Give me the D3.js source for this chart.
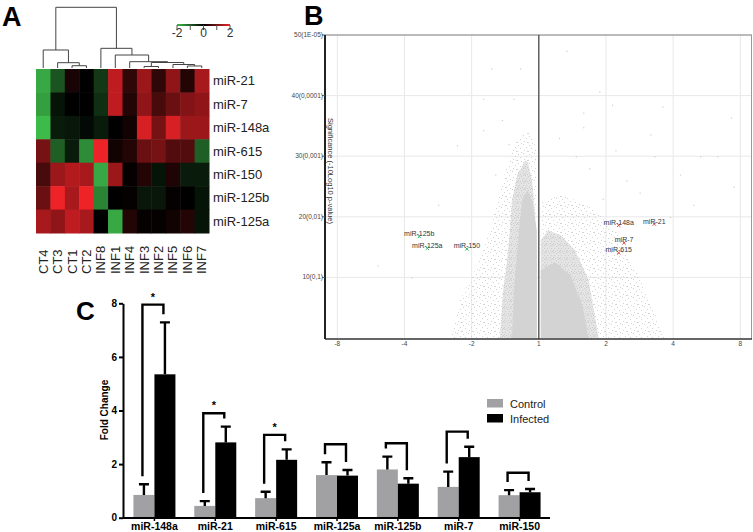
<!DOCTYPE html>
<html><head><meta charset="utf-8">
<script src="https://cdn.jsdelivr.net/npm/d3@7"></script>
<style>body{margin:0;background:#fff}svg{display:block;font-family:"Liberation Sans",Arial,sans-serif}</style>
</head><body><svg id="c" width="753" height="532"></svg>
<script>
// ---------- Panel A data ----------
const hmRows = ["miR-21","miR-7","miR-148a","miR-615","miR-150","miR-125b","miR-125a"];
const hmCols = ["CT4","CT3","CT1","CT2","INF8","INF1","INF4","INF3","INF2","INF5","INF6","INF7"];
const hmValues = [
  [-1.8,-0.9, 0.2, 0.0,-0.6, 1.6, 0.4, 1.3, 0.4, 1.2, 0.3, 1.4],
  [-1.7,-0.2, 0.0, 0.0,-0.5, 1.6, 0.3, 1.2, 0.6, 0.9, 1.1, 1.2],
  [-2.0,-0.3,-0.25,-0.1,-0.3, 0.0, 0.15,1.8, 1.0, 1.8, 1.3, 1.3],
  [ 1.0,-1.0,-0.3,-1.5, 2.0, 0.15,0.3, 0.9, 1.0, 0.7, 0.7,-1.0],
  [ 0.6, 1.3, 1.5, 1.4,-1.8, 1.3, 0.05,0.3,-0.2, 0.25,-0.3,-0.3],
  [ 0.9, 2.0, 1.4, 2.0,-1.4, 0.0, 0.05,-0.25,-0.25,0.05,0.0,-0.2],
  [ 1.4, 1.2, 1.6, 1.4, 0.0,-1.8, 0.3, 0.05,0.05, 0.15,0.3,-0.2]
];
// dendrogram merges: [left, right, height]; merge i is named "m"+i
const dendroMerges = [
  ["CT1","CT2",0.45],["CT3","m0",1.05],["CT4","m1",3.56],
  ["INF6","INF7",0.4],["INF3","INF2",0.3],["INF5","m3",0.69],["m4","m5",1.09],
  ["INF4","m6",1.25],["INF1","m7",2.57],["INF8","m8",3.89],["m2","m9",12]
];
const cbTicks = [-2,-1,0,1,2];
const cbLabels = [-2,0,2];

// ---------- Panel B data ----------
const volXTicks = [-3,-2,-1,0,1,2,3];
const volXLabels = ["-8","-4","-2","1","2","4","8"];
const volYTicks = [10,20,30,40,50];
const volYLabels = ["10(0,1)","20(0,01)","30(0,001)","40(0,0001)","50(1E-05)"];
const volHighlight = ["miR-125b","miR-125a","miR-150","miR-148a","miR-21","miR-7","miR-615"];
const volHX = [-1.78,-1.66,-1.07,1.19,1.72,1.27,1.19];
const volHY = [16.75,14.8,14.7,18.6,18.8,15.7,14.05];
const volHDir = ["down","down","down","up","up","up","up"];
const volSparseX = [0.41,-0.28,-0.71,0.9,-0.83,-0.38,1.09,1.84,2.86,0.66,0.66,-1.22,-0.83,1.14,1.66,2.4,2.66,1.72,-0.55,0.3,0.75,1.3,2.1,-1.5,-2.4,2.9,1.5,-0.45,0.55,-0.65,1.95,2.3,-1.9,0.95];
const volSparseY = [47.4,44.5,44.5,40.7,39.5,39.5,38.5,38.2,36.4,37.2,34.8,31.8,34.3,31,33.6,30,30,30,36,33,28,26,27,22,12,25,24,32,30,27,20,22,10,23];
// point-cloud density outlines [log2FC, significance]
const haloLeft  = [[-1.32,0],[-1.17,6.3],[-0.95,11.2],[-0.73,17.8],[-0.58,24.4],[-0.4,31],[-0.28,33.4],[-0.13,34.3],[-0.03,31],[-0.03,0]];
const haloRight = [[0.03,0],[0.03,22.7],[0.32,23.6],[0.77,21.9],[1.14,17.8],[1.51,9.6],[1.89,0]];
const midLeft   = [[-0.2,29.3],[-0.32,26.9],[-0.4,22.7],[-0.43,17.8],[-0.47,12.9],[-0.53,7.9],[-0.58,0],[-0.03,0],[-0.03,14.5],[-0.06,21.1],[-0.1,26],[-0.16,29]];
const midRight  = [[0.03,0],[0.03,16.1],[0.14,17.8],[0.32,17],[0.54,14.5],[0.74,9.6],[0.89,0]];
const coreLeft  = [[-0.25,22.7],[-0.31,16.1],[-0.37,7.9],[-0.4,0],[-0.03,0],[-0.03,17.8],[-0.1,22.7],[-0.17,24.4]];
const coreRight = [[0.03,0],[0.03,11.2],[0.24,12.5],[0.47,10.4],[0.65,5.4],[0.74,0]];

// ---------- Panel C data ----------
const barCats = ["miR-148a","miR-21","miR-615","miR-125a","miR-125b","miR-7","miR-150"];
const seriesNames = ["Control","Infected"];
const controlMean = [0.85,0.44,0.73,1.59,1.80,1.15,0.84];
const controlErr  = [0.40,0.18,0.24,0.48,0.48,0.57,0.19];
const infectedMean= [5.35,2.81,2.16,1.57,1.27,2.26,0.95];
const infectedErr = [1.94,0.59,0.39,0.21,0.20,0.39,0.12];
const bracketLevel= [7.95,3.90,3.09,2.74,2.78,3.21,1.68];
const sigStars    = ["*","*","*","","","",""];
const barYTicks = [0,2,4,6,8];

const svg = d3.select("#c");
const defs = svg.append("defs");
svg.append("rect").attr("width",753).attr("height",532).attr("fill","#fff");

// ================= PANEL A =================
const A = svg.append("g");
A.append("text").attr("x",2).attr("y",26).attr("font-size",27).attr("font-weight","bold").text("A");
const hx = d3.scaleBand().domain(hmCols).range([36,209]);
const hy = d3.scaleBand().domain(hmRows).range([69,233]);
const hcol = d3.scaleLinear().domain([-2,0,2]).range(["#3dbb4a","#000000","#ee2328"]).clamp(true);
hmRows.forEach((r,i)=>{
  A.selectAll(null).data(hmValues[i]).enter().append("rect")
   .attr("x",(d,j)=>hx(hmCols[j])).attr("y",hy(r))
   .attr("width",hx.bandwidth()+0.5).attr("height",hy.bandwidth()+0.5)
   .attr("fill",d=>hcol(d));
});
A.selectAll(".rl").data(hmRows).enter().append("text")
 .attr("x",213).attr("y",d=>hy(d)+hy.bandwidth()/2+4.5)
 .attr("font-size",13).attr("fill","#222").text(d=>d);
A.selectAll(".cl").data(hmCols).enter().append("text")
 .attr("transform",d=>`translate(${hx(d)+hx.bandwidth()/2+4.5},274) rotate(-90)`)
 .attr("font-size",13).attr("fill","#222").text(d=>d);
// dendrogram
const dh = d3.scaleLinear().domain([0,12]).range([68,7.3]);
const node = {};
hmCols.forEach(c=>node[c]={x:hx(c)+hx.bandwidth()/2,h:0});
const dg = A.append("g").attr("stroke","#444").attr("fill","none").attr("stroke-width",1);
dendroMerges.forEach((m,i)=>{
  const a=node[m[0]], b=node[m[1]], y=dh(m[2]);
  dg.append("path").attr("d",`M${a.x},${dh(a.h)}V${y}H${b.x}V${dh(b.h)}`);
  node["m"+i]={x:(a.x+b.x)/2,h:m[2]};
});
// color bar
const cbx = d3.scaleLinear().domain([-2,2]).range([177,230]);
const grad = defs.append("linearGradient").attr("id","cbg");
[[0,"#3dbb4a"],[0.5,"#000"],[1,"#ee2328"]].forEach(s=>grad.append("stop").attr("offset",s[0]).attr("stop-color",s[1]));
A.append("rect").attr("x",cbx(-2)).attr("y",24).attr("width",cbx(2)-cbx(-2)).attr("height",2).attr("fill","url(#cbg)");
A.selectAll(".cbt").data(cbTicks).enter().append("line")
 .attr("x1",d=>cbx(d)).attr("x2",d=>cbx(d)).attr("y1",25).attr("y2",30).attr("stroke","#555");
A.selectAll(".cbl").data(cbLabels).enter().append("text")
 .attr("x",d=>cbx(d)).attr("y",37).attr("text-anchor","middle").attr("font-size",12).attr("fill","#333")
 .text(d=>d<0?"-"+Math.abs(d):d);

// ================= PANEL B =================
const B = svg.append("g");
B.append("text").attr("x",304).attr("y",25).attr("font-size",27).attr("font-weight","bold").text("B");
const vx = d3.scaleLinear().domain([-3,3]).range([337.3,740.3]);
const vy = d3.scaleLinear().domain([0,50]).range([338,35]);
const L=325,R=752,T=35,Bt=339;
B.selectAll(".gx").data(volXTicks.filter(d=>d!==0)).enter().append("line")
 .attr("x1",d=>vx(d)).attr("x2",d=>vx(d)).attr("y1",T).attr("y2",Bt).attr("stroke","#e8e8e8");
B.selectAll(".gy").data(volYTicks.slice(0,4)).enter().append("line")
 .attr("x1",L).attr("x2",R).attr("y1",d=>vy(d)).attr("y2",d=>vy(d)).attr("stroke","#e8e8e8");
// speckle textures
function speckle(id,w,h,pts,col){
  const p=defs.append("pattern").attr("id",id).attr("patternUnits","userSpaceOnUse").attr("width",w).attr("height",h);
  pts.forEach(q=>p.append("rect").attr("x",q[0]).attr("y",q[1]).attr("width",1).attr("height",1).attr("fill",col));
}
speckle("spk",11,9,[[1,1],[6,0],[9,3],[3,4],[7,6],[0,7],[4,8],[10,7]],"#d4d4d4");
speckle("spk2",7,7,[[0,0],[3,1],[5,3],[1,3],[4,5],[6,6],[2,6],[0,5],[5,0]],"#cdcdcd");
const ln = d3.line().x(d=>vx(d[0])).y(d=>vy(d[1])).curve(d3.curveLinearClosed);
defs.append("clipPath").attr("id","vclip").append("rect").attr("x",L).attr("y",T).attr("width",R-L).attr("height",Bt-T);
const cloud = B.append("g").attr("clip-path","url(#vclip)");
[haloLeft,haloRight].forEach(p=>cloud.append("path").attr("d",ln(p)).attr("fill","url(#spk)"));
[midLeft,midRight].forEach(p=>{
  cloud.append("path").attr("d",ln(p)).attr("fill","#e4e4e4");
  cloud.append("path").attr("d",ln(p)).attr("fill","url(#spk2)");
});
[coreLeft,coreRight].forEach(p=>cloud.append("path").attr("d",ln(p)).attr("fill","#d3d3d3"));
cloud.selectAll(".sp").data(volSparseX).enter().append("rect")
 .attr("x",d=>vx(d)).attr("y",(d,i)=>vy(volSparseY[i])).attr("width",1.2).attr("height",1.2).attr("fill","#cdcdcd");
// frame
B.append("line").attr("x1",L).attr("x2",R).attr("y1",T).attr("y2",T).attr("stroke","#777");
B.append("line").attr("x1",R-0.5).attr("x2",R-0.5).attr("y1",T).attr("y2",Bt).attr("stroke","#999");
B.append("line").attr("x1",vx(0)).attr("x2",vx(0)).attr("y1",T).attr("y2",Bt).attr("stroke","#555").attr("stroke-width",1.4);
B.append("line").attr("x1",L).attr("x2",R).attr("y1",Bt).attr("y2",Bt).attr("stroke","#333").attr("stroke-width",1.4);
B.append("line").attr("x1",L).attr("x2",L).attr("y1",T).attr("y2",Bt).attr("stroke","#222").attr("stroke-width",2);
B.selectAll(".yt").data(volYTicks).enter().append("line")
 .attr("x1",L-3).attr("x2",L).attr("y1",d=>vy(d)).attr("y2",d=>vy(d)).attr("stroke","#555");
B.selectAll(".yl").data(volYTicks).enter().append("text")
 .attr("x",L-2).attr("y",d=>vy(d)+2).attr("text-anchor","end").attr("font-size",6.5).attr("fill","#444")
 .text((d,i)=>volYLabels[i]);
B.selectAll(".xl").data(volXTicks).enter().append("text")
 .attr("x",d=>vx(d)).attr("y",346).attr("text-anchor","middle").attr("font-size",6.5).attr("fill","#444")
 .text((d,i)=>volXLabels[i]);
B.append("text").attr("transform","translate(328,118) rotate(90)").attr("font-size",7.5).attr("fill","#333")
 .text("Significance (-10Log10 p-value)");
volHighlight.forEach((n,i)=>{
  const x=vx(volHX[i]), y=vy(volHY[i]), c=volHDir[i]==="down"?"#35b46e":"#e0474f";
  B.append("path").attr("d",`M${x-1.7},${y-1.7}L${x+1.7},${y+1.7}M${x-1.7},${y+1.7}L${x+1.7},${y-1.7}`).attr("stroke",c).attr("stroke-width",1);
  B.append("text").attr("x",x).attr("y",y-0.5).attr("text-anchor","middle").attr("font-size",7).attr("fill","#333").text(n);
});

// ================= PANEL C =================
const C = svg.append("g");
C.append("text").attr("x",76).attr("y",320).attr("font-size",26).attr("font-weight","bold").text("C");
const bx = d3.scaleBand().domain(barCats).range([124,550]).paddingInner(0.31).paddingOuter(0.155);
const bs = d3.scaleBand().domain(seriesNames).range([0,bx.bandwidth()]);
const by = d3.scaleLinear().domain([0,8]).range([517.7,303.3]);
const means = [controlMean,infectedMean], errs=[controlErr,infectedErr], cols=["#a1a1a3","#000"];
seriesNames.forEach((s,k)=>{
  C.selectAll(null).data(barCats).enter().append("rect")
   .attr("x",d=>bx(d)+bs(s)).attr("width",bs.bandwidth())
   .attr("y",(d,i)=>by(means[k][i])).attr("height",(d,i)=>by(0)-by(means[k][i])).attr("fill",cols[k]);
});
const eg = C.append("g").attr("stroke","#000").attr("stroke-width",2.4).attr("fill","none");
seriesNames.forEach((s,k)=>{
  barCats.forEach((d,i)=>{
    const cx=bx(d)+bs(s)+bs.bandwidth()/2, top=by(means[k][i]+errs[k][i]);
    eg.append("path").attr("d",`M${cx},${by(means[k][i])}V${top}M${cx-5},${top}H${cx+5}`);
  });
});
barCats.forEach((d,i)=>{
  const x1=bx(d)+bs("Control")+bs.bandwidth()/2-1.5, x2=bx(d)+bs("Infected")+bs.bandwidth()/2-1.5;
  const yb=by(bracketLevel[i]);
  const y1=by(controlMean[i]+controlErr[i])-8, y2=by(infectedMean[i]+infectedErr[i])-8;
  eg.append("path").attr("d",`M${x1},${y1}V${yb}H${x2}V${y2}`);
  if(sigStars[i]) C.append("text").attr("x",(x1+x2)/2).attr("y",yb-4).attr("text-anchor","middle")
     .attr("font-size",11).attr("font-weight","bold").text(sigStars[i]);
});
const yAx = C.append("g").attr("transform","translate(123,0)")
 .call(d3.axisLeft(by).tickValues(barYTicks).tickSize(4).tickPadding(2).tickSizeOuter(0));
yAx.select(".domain").attr("stroke-width",2);
yAx.selectAll("line").attr("stroke-width",2);
yAx.selectAll("text").attr("font-size",10).attr("font-weight","bold").attr("font-family","Liberation Sans, Arial");
const xAx = C.append("g").attr("transform","translate(0,518)")
 .call(d3.axisBottom(bx).tickSize(3).tickSizeOuter(0));
xAx.select(".domain").attr("stroke-width",2).attr("d","M123,0H550");
xAx.selectAll("line").attr("stroke-width",1.5);
xAx.selectAll("text").attr("font-size",10.5).attr("font-weight","bold").attr("font-family","Liberation Sans, Arial").attr("dy","0.55em");
C.append("text").attr("transform","translate(107.5,410) rotate(-90)").attr("text-anchor","middle")
 .attr("font-size",10).attr("font-weight","bold").text("Fold Change");
seriesNames.forEach((s,k)=>{
  C.append("rect").attr("x",487).attr("y",399+k*15).attr("width",16).attr("height",8.5).attr("fill",cols[k]);
  C.append("text").attr("x",510).attr("y",407.5+k*15).attr("font-size",11).attr("fill","#222").text(s);
});
</script></body></html>
